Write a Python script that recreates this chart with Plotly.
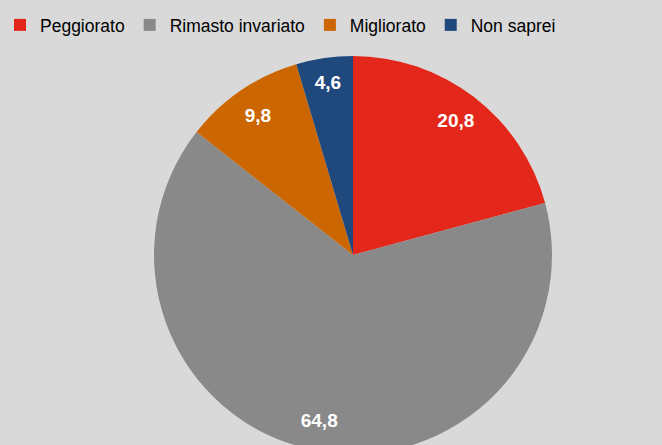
import plotly.graph_objects as go

categories = ["Peggiorato", "Rimasto invariato", "Migliorato", "Non saprei"]
values = [20.8, 64.8, 9.8, 4.6]
colors = ["#e3281b", "#898989", "#cc6600", "#1f497d"]

FONT = "Liberation Sans, Arial, sans-serif"
W, H = 720, 460
ML, MT = 10, 40
PW, PH = W - ML, H - MT
R = 199
CX, CY = 353, 255
dom = dict(
    x=[(CX - R - ML) / PW, (CX + R - ML) / PW],
    y=[1 - (CY + R - MT) / PH, 1 - (CY - R - MT) / PH],
)

pie_fill = go.Pie(
    labels=categories, values=values, sort=False, direction="clockwise", rotation=0,
    marker=dict(colors=colors, line=dict(width=0)),
    textinfo="none", hoverinfo="label+value", domain=dom,
)
pie_text = go.Pie(
    labels=categories, values=values, sort=False, direction="clockwise", rotation=0,
    hole=0.7, showlegend=False,
    marker=dict(colors=["rgba(0,0,0,0)"] * len(values), line=dict(width=0)),
    texttemplate="%{value:.1f}", textposition="inside", insidetextorientation="horizontal",
    textfont=dict(family=FONT, size=19, color="white", weight="bold"),
    hoverinfo="skip", domain=dom,
)
fig = go.Figure([pie_fill, pie_text])
fig.update_layout(
    width=W, height=H,
    separators=",.",
    paper_bgcolor="#d9d9d9",
    plot_bgcolor="#d9d9d9",
    margin=dict(l=ML, r=0, t=MT, b=0, pad=0, autoexpand=False),
    showlegend=True,
    legend=dict(
        orientation="h",
        x=-ML / PW, xref="paper", y=1 + (MT - 7) / PH, yref="paper",
        xanchor="left", yanchor="top",
        font=dict(family=FONT, size=17.5, color="#000000"),
        itemwidth=30,
        traceorder="normal",
        bgcolor="rgba(0,0,0,0)",
    ),
)
fig.write_html(
    "out.html",
    post_script="document.body.style.margin='0';document.body.style.overflow='hidden';document.body.style.background='#d9d9d9';",
)
